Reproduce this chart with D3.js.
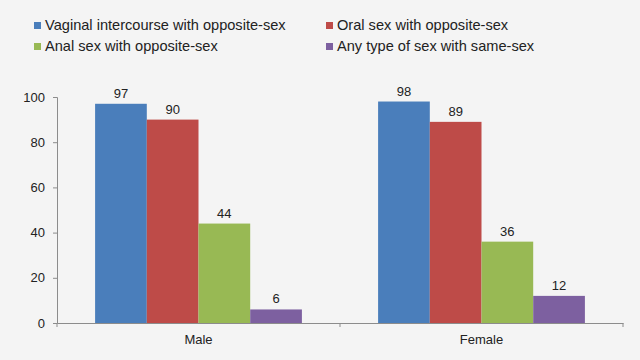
<!DOCTYPE html>
<html><head><meta charset="utf-8">
<script src="https://cdn.jsdelivr.net/npm/d3@7"></script>
<style>body{margin:0;background:#f4f4f4;}svg{display:block;font-family:"Liberation Sans",Arial,sans-serif;}</style>
</head><body>
<script>
const categories = ["Male", "Female"];
const seriesNames = ["Vaginal intercourse with opposite-sex", "Oral sex with opposite-sex", "Anal sex with opposite-sex", "Any type of sex with same-sex"];
const vaginal = [97, 98];
const oral = [90, 89];
const anal = [44, 36];
const sameSex = [6, 12];
const yTicks = [0, 20, 40, 60, 80, 100];
const colors = ["#4a7ebb", "#be4b48", "#98b954", "#7d60a0"];

const seriesValues = [vaginal, oral, anal, sameSex];
const W = 640, H = 360;
const m = {left: 57, right: 17, top: 97, bottom: 37};
const svg = d3.select("body").append("svg").attr("width", W).attr("height", H);
svg.append("rect").attr("width", W).attr("height", H).attr("fill", "#f4f4f4");

const x0 = d3.scaleBand().domain(categories).range([m.left, W - m.right]).paddingInner(0).paddingOuter(0);
const x1 = d3.scaleBand().domain(d3.range(seriesNames.length)).range([0, x0.bandwidth()]).paddingOuter(0.737).paddingInner(0);
const y = d3.scaleLinear().domain([0, 100]).range([H - m.bottom, m.top]);

// bars
categories.forEach((c, ci) => {
  seriesValues.forEach((vals, si) => {
    const v = vals[ci];
    const bx = x0(c) + x1(si);
    svg.append("rect").attr("x", bx).attr("y", y(v)).attr("width", x1.bandwidth()).attr("height", y(0) - y(v)).attr("fill", colors[si]);
    svg.append("text").attr("x", bx + x1.bandwidth() / 2).attr("y", y(v) - 6).attr("text-anchor", "middle")
      .attr("font-size", 13).attr("fill", "#222").text(v);
  });
});

// y axis
const yAxis = svg.append("g").attr("transform", `translate(${m.left},0)`)
  .call(d3.axisLeft(y).tickValues(yTicks).tickSize(4).tickPadding(8));
yAxis.select(".domain").attr("stroke", "#8c8c8c");
yAxis.selectAll(".tick line").attr("stroke", "#8c8c8c");
yAxis.selectAll("text").attr("font-size", 13).attr("fill", "#222").style("font-family", "Liberation Sans, Arial, sans-serif");

// x axis
const xAxis = svg.append("g").attr("transform", `translate(0,${y(0)})`)
  .call(d3.axisBottom(x0).tickSize(0).tickPadding(12));
xAxis.select(".domain").attr("stroke", "#8c8c8c");
xAxis.selectAll("text").attr("font-size", 13).attr("fill", "#222").style("font-family", "Liberation Sans, Arial, sans-serif");
const bounds = [m.left, x0("Female"), W - m.right];
xAxis.selectAll(".bt").data(bounds).enter().append("line").attr("class", "bt")
  .attr("x1", d => d).attr("x2", d => d).attr("y1", 0).attr("y2", 4).attr("stroke", "#8c8c8c");

// legend
const legPos = [[34, 25], [326, 25], [34, 46], [326, 46]];
seriesNames.forEach((n, i) => {
  const [lx, ly] = legPos[i];
  svg.append("rect").attr("x", lx).attr("y", ly - 3).attr("width", 7).attr("height", 7).attr("fill", colors[i]);
  svg.append("text").attr("x", lx + 11).attr("y", ly + 5).attr("font-size", 14.6).attr("fill", "#222").text(n);
});
</script>
</body></html>
